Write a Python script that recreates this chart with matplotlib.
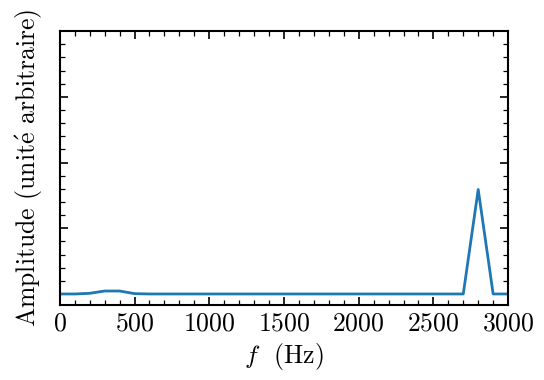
import matplotlib
matplotlib.use('Agg')
import matplotlib.pyplot as plt
from matplotlib.ticker import MultipleLocator, NullFormatter

plt.rcParams['font.family'] = 'serif'
plt.rcParams['font.serif'] = ['cmr10']
plt.rcParams['mathtext.fontset'] = 'cm'
plt.rcParams['axes.formatter.use_mathtext'] = True

# spectre (Hz, amplitude arbitraire)
freq = [0, 100, 200, 300, 400, 500, 600, 700, 800, 900, 1000, 1100, 1200, 1300,
        1400, 1500, 1600, 1700, 1800, 1900, 2000, 2100, 2200, 2300, 2400, 2500,
        2600, 2700, 2800, 2900, 3000]
amp = [0.0, 0.0, 0.01, 0.045, 0.045, 0.005, 0.0, 0.0, 0.0, 0.0, 0.0, 0.0, 0.0, 0.0,
       0.0, 0.0, 0.0, 0.0, 0.0, 0.0, 0.0, 0.0, 0.0, 0.0, 0.0, 0.0,
       0.0, 0.0, 1.59, 0.0, 0.0]

fig = plt.figure(figsize=(5.44, 3.8), dpi=100)
ax = fig.add_axes([0.110, 0.197, 0.824, 0.721])
ax.plot(freq, amp, color='#1f77b4', lw=2.0)

ax.set_xlim(0, 3000)
ax.set_ylim(-0.17, 4.0)
ax.xaxis.set_major_locator(MultipleLocator(500))
ax.xaxis.set_minor_locator(MultipleLocator(100))
ax.yaxis.set_major_locator(MultipleLocator(1))
ax.yaxis.set_minor_locator(MultipleLocator(0.2))
ax.yaxis.set_major_formatter(NullFormatter())

ax.tick_params(which='both', direction='in', top=True, right=True, labelsize=18.5)
ax.tick_params(which='major', length=6, width=1.2, pad=5)
ax.tick_params(which='minor', length=3.5, width=0.9)
for s in ax.spines.values():
    s.set_linewidth(1.5)

ax.set_xlabel(r'$f$  (Hz)', fontsize=18.5, labelpad=4)
ax.set_ylabel(r'Amplitude (unit$\acute{\mathrm{e}}$ arbitraire)', fontsize=18.5, labelpad=6)

fig.savefig('out.png', dpi=100)
